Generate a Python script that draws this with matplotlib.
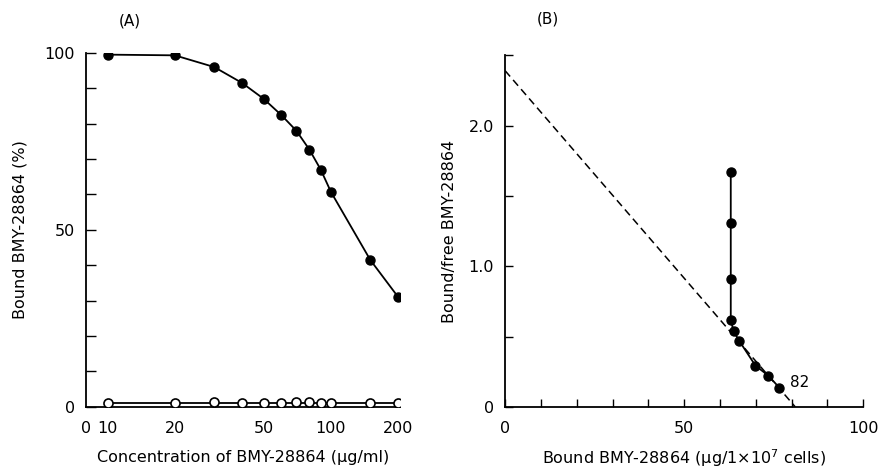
import numpy as np
import matplotlib.pyplot as plt
from matplotlib.ticker import MultipleLocator, NullLocator

# Panel A: concentration vs bound (%)
conc = [10, 20, 30, 40, 50, 60, 70, 80, 90, 100, 150, 200]
bound_pct = [99.5, 99.3, 96, 91.5, 87, 82.4, 78, 72.7, 67, 60.7, 41.5, 31]
bound_pct_open = [1.2, 1.2, 1.3, 1.1, 1.2, 1.2, 1.3, 1.3, 1.2, 1.2, 1.1, 1.1]
open_line = [1.0] * len(conc)
xtick_vals = [8, 10, 20, 50, 100, 200]
xtick_labels = ['0', '10', '20', '50', '100', '200']

# Panel B: Scatchard plot
bound_ug = [63.0, 63.0, 63.0, 63.0, 63.8, 65.4, 69.9, 73.5, 76.6]
bound_free = [1.667, 1.305, 0.908, 0.619, 0.537, 0.468, 0.293, 0.222, 0.135]
fit_x = [0, 81]
fit_y = [2.39, 0]

plt.rcParams['font.family'] = 'DejaVu Sans'
fig = plt.figure(figsize=(8.8, 4.72), dpi=100)

ax1 = fig.add_axes([0.0977, 0.138, 0.357, 0.750])
ax1.plot(conc, bound_pct, color='black', lw=1.3, marker='o', ms=6.5,
         mfc='black', mec='black', zorder=3)
ax1.plot(conc, open_line, color='black', lw=1.3, zorder=2)
ax1.plot(conc, bound_pct_open, ls='none', marker='o', ms=6.5,
         mfc='white', mec='black', mew=1.2, zorder=3)
ax1.set_xscale('log')
ax1.set_xlim(8, 204)
ax1.set_ylim(0, 100)
ax1.set_xticks(xtick_vals)
ax1.set_xticklabels(xtick_labels)
ax1.xaxis.set_minor_locator(NullLocator())
ax1.set_yticks([0, 50, 100])
ax1.yaxis.set_minor_locator(MultipleLocator(10))
ax1.tick_params(axis='x', length=0, pad=10, labelsize=11.5)
ax1.tick_params(axis='y', which='both', direction='in', length=7, width=1,
                labelsize=11.5, pad=8)
ax1.spines['top'].set_visible(False)
ax1.spines['right'].set_visible(False)
ax1.spines['left'].set_linewidth(1.3)
ax1.spines['bottom'].set_linewidth(1.3)
ax1.set_xlabel('Concentration of BMY-28864 (µg/ml)', fontsize=11.5, labelpad=10)
ax1.set_ylabel('Bound BMY-28864 (%)', fontsize=11.5, labelpad=12)
fig.text(0.148, 0.955, '(A)', fontsize=11, ha='center', va='center')

ax2 = fig.add_axes([0.574, 0.138, 0.407, 0.745])
ax2.plot(fit_x, fit_y, color='black', lw=1.1, ls=(0, (5, 3)), zorder=2)
ax2.plot(bound_ug, bound_free, color='black', lw=1.3, marker='o', ms=6.5,
         mfc='black', mec='black', zorder=3)
ax2.text(79.5, 0.17, '82', fontsize=11, ha='left', va='center')
ax2.set_xlim(0, 100)
ax2.set_ylim(0, 2.5)
ax2.set_xticks([0, 50, 100])
ax2.xaxis.set_minor_locator(MultipleLocator(10))
ax2.set_yticks([0, 1.0, 2.0])
ax2.set_yticklabels(['0', '1.0', '2.0'])
ax2.yaxis.set_minor_locator(MultipleLocator(0.5))
ax2.tick_params(axis='both', which='both', direction='in', length=6, width=1,
                labelsize=11.5)
ax2.tick_params(axis='x', pad=10)
ax2.tick_params(axis='y', pad=8)
ax2.spines['top'].set_visible(False)
ax2.spines['right'].set_visible(False)
ax2.spines['left'].set_linewidth(1.3)
ax2.spines['bottom'].set_linewidth(1.3)
ax2.set_xlabel('Bound BMY-28864 (µg/1$\\times$10$^7$ cells)', fontsize=11.5,
               labelpad=8)
ax2.set_ylabel('Bound/free BMY-28864', fontsize=11.5, labelpad=8)
fig.text(0.623, 0.96, '(B)', fontsize=11, ha='center', va='center')

fig.savefig('out.png', dpi=100)
